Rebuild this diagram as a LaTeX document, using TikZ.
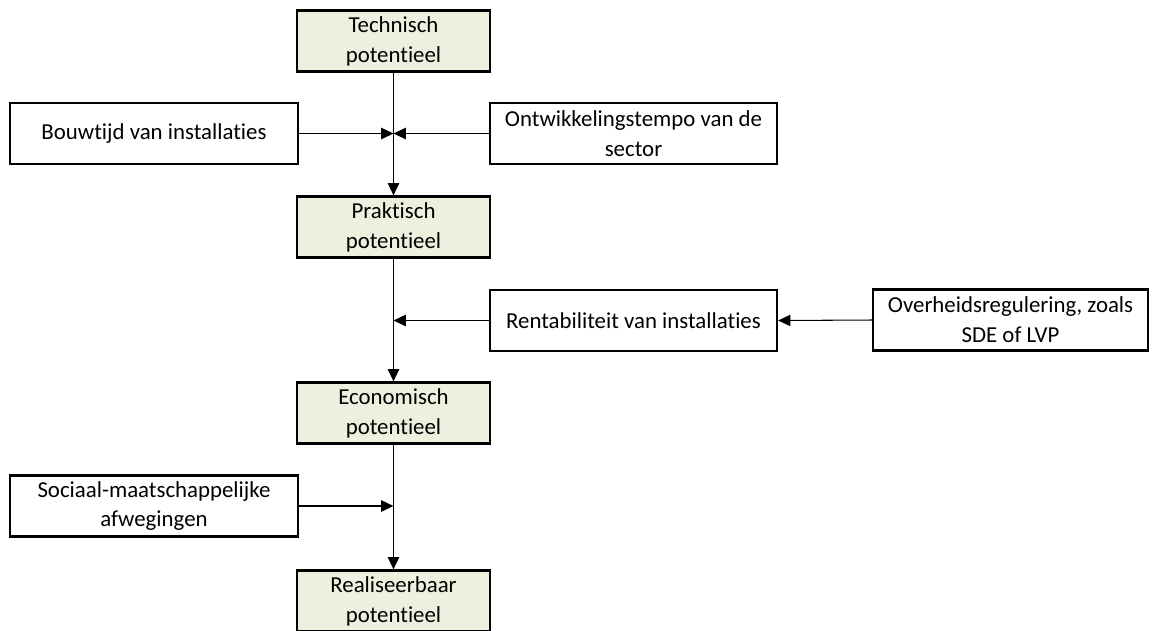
\documentclass[tikz,border=0pt]{standalone}
\usepackage{fontspec}
\setmainfont{Carlito}[Ligatures=NoCommon]
\usepackage{tikz}
\usetikzlibrary{arrows.meta}
\definecolor{potgreen}{RGB}{235,241,222}
\tikzset{%
    factor/.style={%
        draw, line width=1.3pt, align=center, inner sep=0pt,
        font=\fontsize{13}{17}\selectfont,
        minimum width=#1*0.02cm, minimum height=1.22cm
    },
    potential/.style={%
        factor=193, fill=potgreen
    },
    link/.style={%
        line width=0.6pt, -{Triangle[length=7pt,width=6.5pt]}
    }
}

\begin{document}
\begin{tikzpicture}[x=0.02cm,y=-0.02cm]
    \useasboundingbox (0,0) rectangle (1158,630);
    % potentials along the spine
    \node[potential] (tech) at (393.5,41) {Technisch\\potentieel};
    \node[potential] (prak) at (393.5,227) {Praktisch\\potentieel};
    \node[potential] (econ) at (393.5,413) {Economisch\\potentieel};
    \node[potential] (real) at (393.5,601) {Realiseerbaar\\potentieel};
    % factors
    \node[factor=288] (bouw) at (154,133.5) {Bouwtijd van installaties};
    \node[factor=287] (ontw) at (633.5,133.5) {Ontwikkelingstempo van de\\sector};
    \node[factor=287] (rent) at (633.5,320.5) {Rentabiliteit van installaties};
    \node[factor=275] (over) at (1010.5,320) {Overheidsregulering, zoals\\SDE of LVP};
    \node[factor=288] (soc) at (154,506) {Sociaal-maatschappelijke\\afwegingen};
    % meeting points on the spine
    \coordinate (m1) at (tech.south |- bouw.east);
    \coordinate (m2) at (tech.south |- rent.west);
    \coordinate (m3) at (tech.south |- soc.east);
    \draw[link] (tech.south)--(prak.north);
    \draw[link] (prak.south)--(econ.north);
    \draw[link] (econ.south)--(real.north);
    \draw[link] (bouw.east)--(m1);
    \draw[link] (ontw.west)--(m1);
    \draw[link] (rent.west)--(m2);
    \draw[link] (over.west)--(rent.east);
    \draw[link] (soc.east)--(m3);
\end{tikzpicture}
\end{document}
